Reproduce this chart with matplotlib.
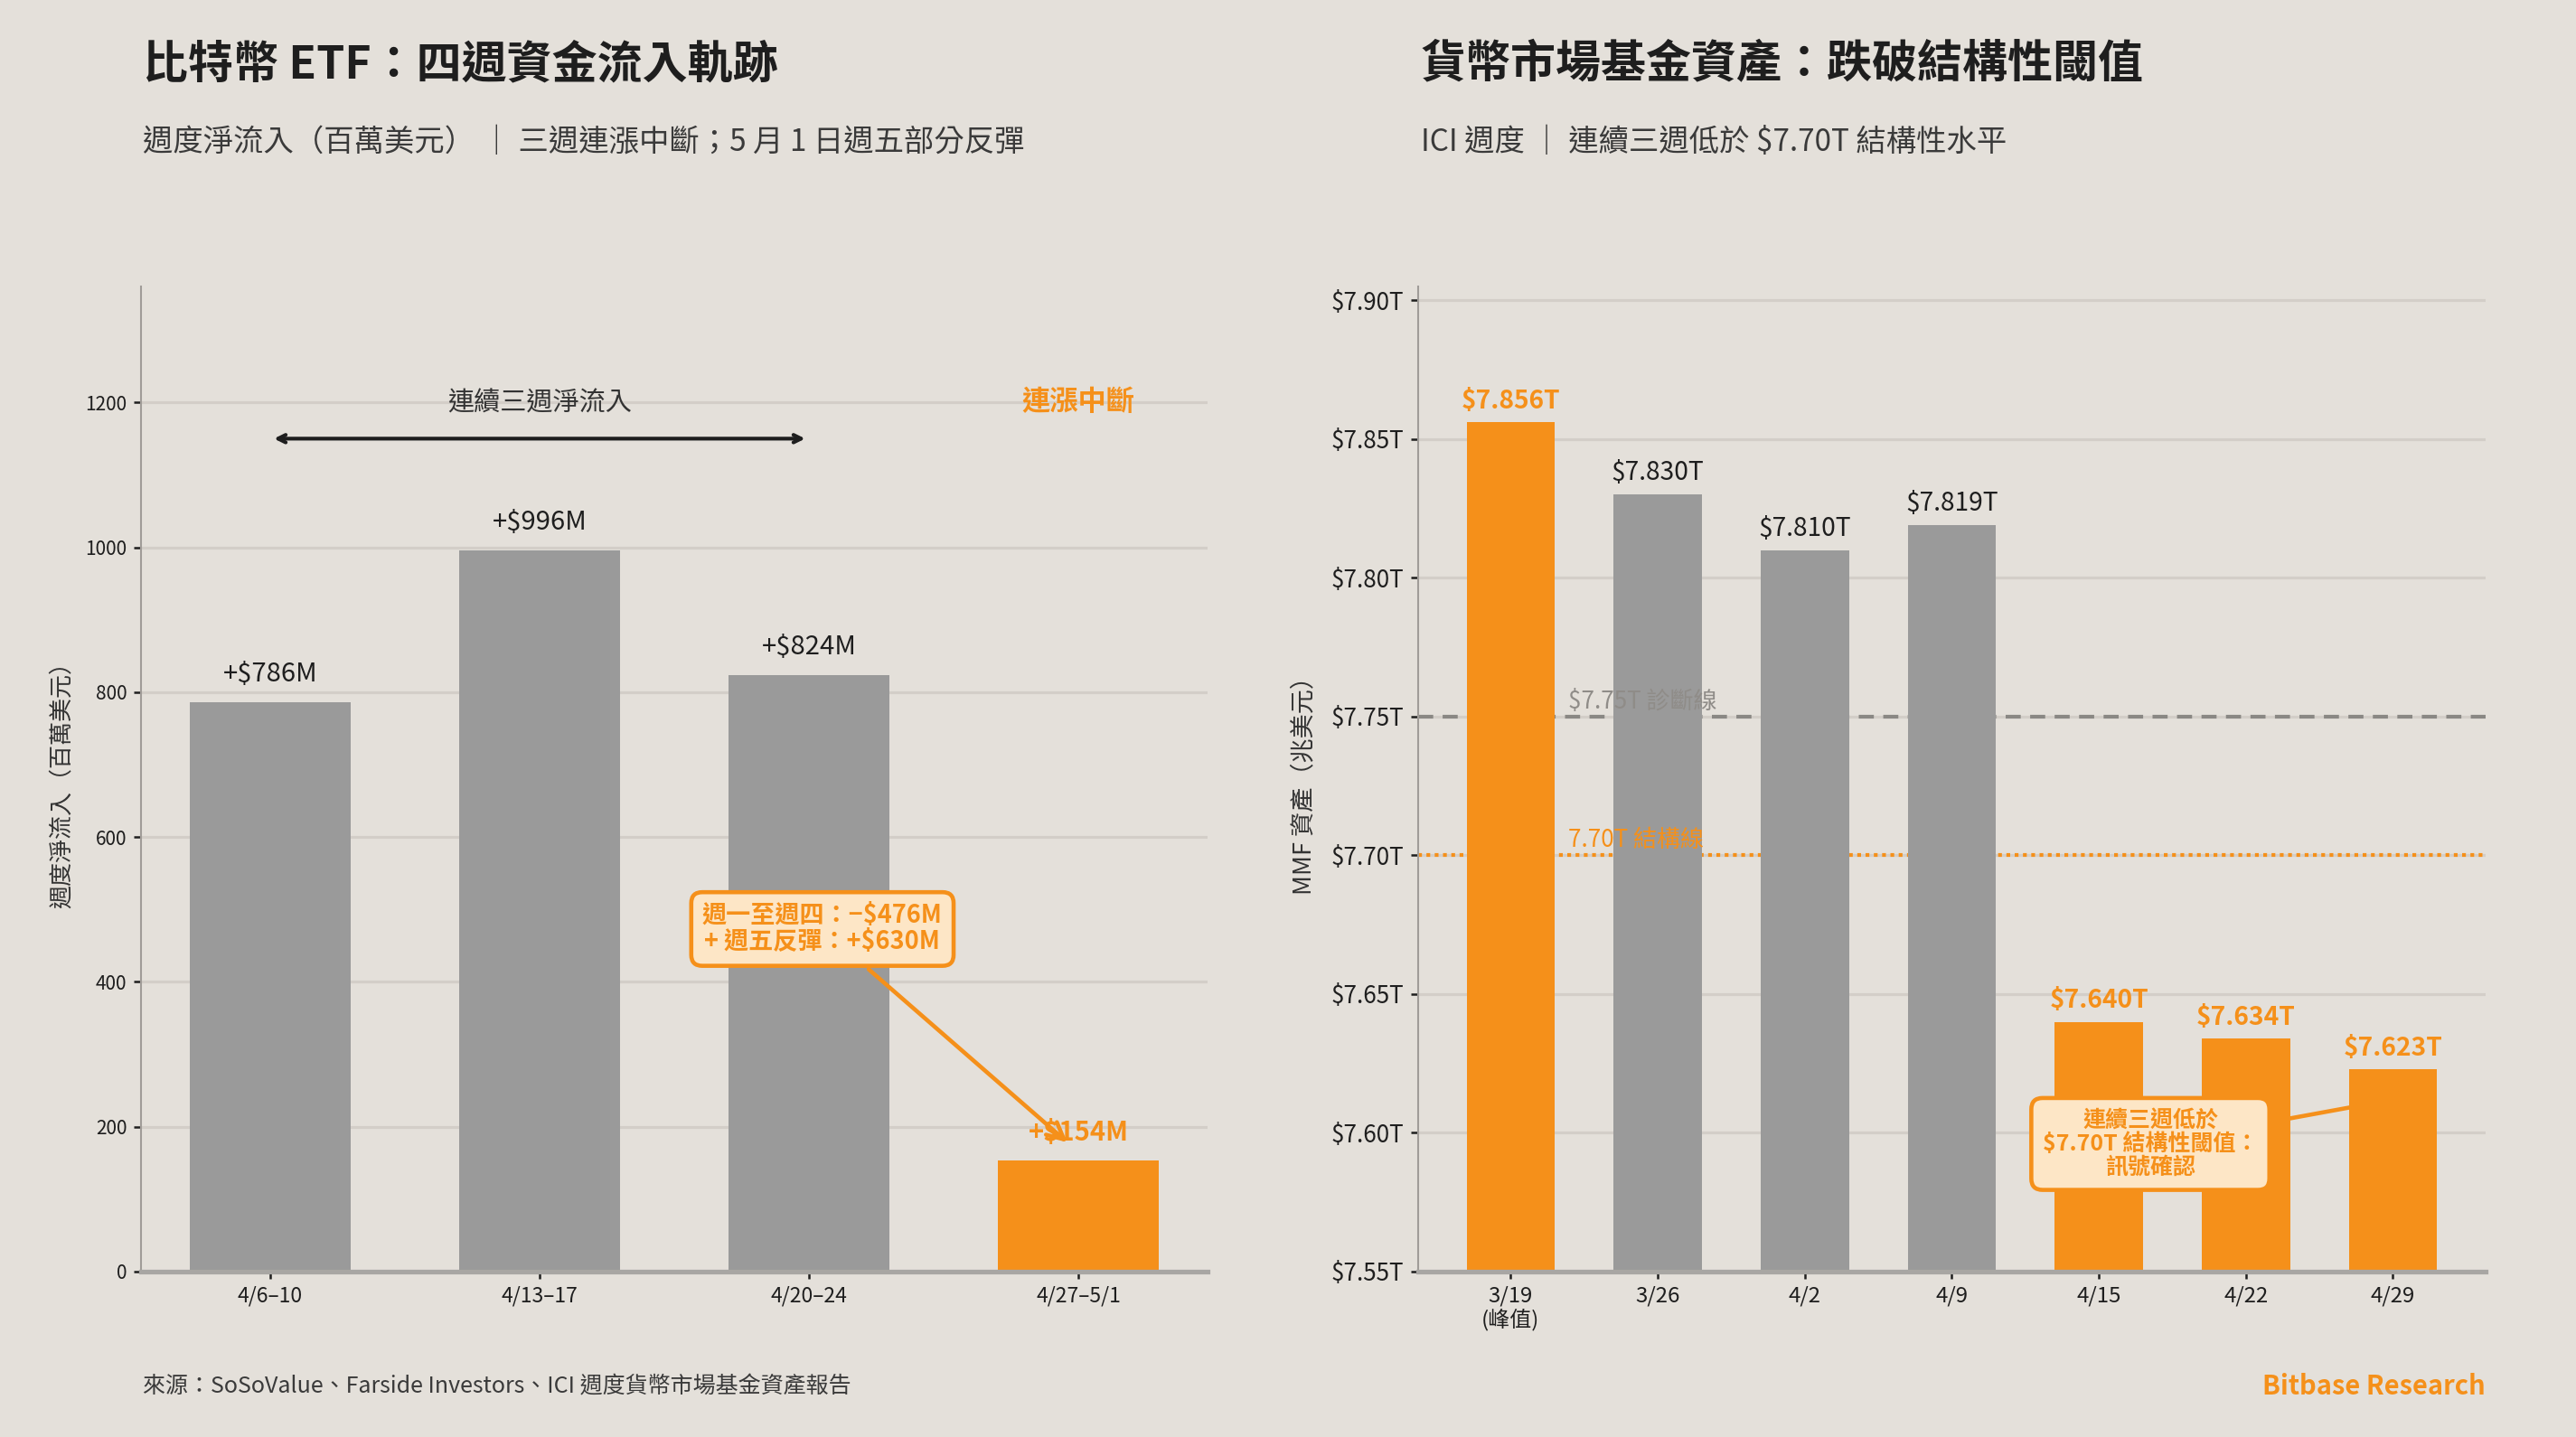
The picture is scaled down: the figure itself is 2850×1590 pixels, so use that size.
import numpy as np
import matplotlib
matplotlib.use('Agg')
import matplotlib.pyplot as plt

plt.rcParams['font.family'] = ['Noto Sans CJK TC', 'DejaVu Sans']

# Data
etf_weeks = ['4/6–10', '4/13–17', '4/20–24', '4/27–5/1']
etf_flows = [786, 996, 824, 154]
etf_ticks = [0, 200, 400, 600, 800, 1000, 1200]

mmf_dates = ['3/19\n(峰值)', '3/26', '4/2', '4/9', '4/15', '4/22', '4/29']
mmf_assets = [7.856, 7.830, 7.810, 7.819, 7.640, 7.634, 7.623]
mmf_ticks = [7.55, 7.60, 7.65, 7.70, 7.75, 7.80, 7.85, 7.90]
diag_level = 7.75
struct_level = 7.70

# Colours
BG = '#E4E0DA'
ORANGE = '#F5901A'
GRAY = '#9A9A9A'
GRID = '#D3CEC8'
DARK = '#1E1E1E'

fig = plt.figure(figsize=(19, 10.6), dpi=150, facecolor=BG)
ax1 = fig.add_axes([0.0547, 0.1151, 0.4141, 0.6855])
ax2 = fig.add_axes([0.5505, 0.1151, 0.4144, 0.6855])

for ax in (ax1, ax2):
    ax.set_facecolor(BG)
    ax.spines['top'].set_visible(False)
    ax.spines['right'].set_visible(False)
    ax.spines['left'].set_color('#A09C98')
    ax.spines['left'].set_linewidth(1)
    ax.spines['bottom'].set_color('#A8A6A3')
    ax.spines['bottom'].set_linewidth(2.5)
    ax.set_axisbelow(True)
    ax.yaxis.grid(True, color=GRID, lw=1.5)
    ax.tick_params(axis='both', colors=DARK, length=4, width=1.2)

# ---- left: ETF flows ----
x1 = np.arange(len(etf_flows))
c1 = [ORANGE if i == len(etf_flows) - 1 else GRAY for i in x1]
ax1.bar(x1, etf_flows, width=0.6, color=c1, zorder=2)
ax1.set_ylim(0, 1360)
ax1.set_yticks(etf_ticks)
ax1.tick_params(axis='y', labelsize=10)
ax1.set_xticks(x1)
ax1.set_xticklabels(etf_weeks, fontsize=11)
ax1.set_ylabel('週度淨流入（百萬美元）', fontsize=12.5, color='#333333', labelpad=6)

for i, v in enumerate(etf_flows):
    last = i == len(etf_flows) - 1
    ax1.text(i, v + 20, f'+${v}M', ha='center', va='bottom', fontsize=14,
             color=ORANGE if last else DARK, fontweight='bold' if last else 'normal', zorder=4)

ax1.annotate('', xy=(0, 1150), xytext=(2, 1150),
             arrowprops=dict(arrowstyle='<->', color=DARK, lw=2))
ax1.text(1, 1198, '連續三週淨流入', ha='center', va='center', fontsize=14, color='#333333')
ax1.text(3, 1200, '連漲中斷', ha='center', va='center', fontsize=15,
         color=ORANGE, fontweight='bold')

ax1.annotate('週一至週四：−$476M\n+ 週五反彈：+$630M', xy=(2.97, 175), xytext=(2.05, 473),
             ha='center', va='center', fontsize=13, fontweight='bold', color=ORANGE,
             linespacing=1.05,
             bbox=dict(boxstyle='round,pad=0.45', fc='#FDE6C6', ec=ORANGE, lw=2.2),
             arrowprops=dict(arrowstyle='->', color=ORANGE, lw=2.2, mutation_scale=22),
             zorder=5)

# ---- right: MMF assets ----
x2 = np.arange(len(mmf_assets))
peak = int(np.argmax(mmf_assets))
hot = [i == peak or v < struct_level for i, v in enumerate(mmf_assets)]
c2 = [ORANGE if h else GRAY for h in hot]
ax2.bar(x2, np.array(mmf_assets) - 7.55, bottom=7.55, width=0.6, color=c2, zorder=2)
ax2.set_ylim(7.55, 7.905)
ax2.set_yticks(mmf_ticks)
ax2.set_yticklabels([f'${t:.2f}T' for t in mmf_ticks], fontsize=12.5)
ax2.set_xticks(x2)
ax2.set_xticklabels(mmf_dates, fontsize=11.5, linespacing=1.1)
ax2.set_ylabel('MMF 資產（兆美元）', fontsize=13, color='#333333', labelpad=8)

ax2.axhline(diag_level, color='#8A8884', lw=2, ls=(0, (4, 2.5)), zorder=1)
ax2.axhline(struct_level, color=ORANGE, lw=2, ls=(0, (1, 1.2)), zorder=1)
ax2.text(0.39, diag_level + 0.001, f'${diag_level:.2f}T 診斷線', fontsize=12.5,
         color='#8F8C88', va='bottom', ha='left', zorder=4)
ax2.text(0.39, struct_level + 0.001, f'{struct_level:.2f}T 結構線', fontsize=12.5,
         color=ORANGE, va='bottom', ha='left', zorder=4)

for i, v in enumerate(mmf_assets):
    ax2.text(i, v + 0.003, f'${v:.3f}T', ha='center', va='bottom', fontsize=13.5,
             color=ORANGE if hot[i] else DARK, fontweight='bold' if hot[i] else 'normal', zorder=4)

# connector line sits below the bars, box above
ax2.annotate('', xy=(6, 7.612), xytext=(4.35, 7.596),
             arrowprops=dict(arrowstyle='-', color=ORANGE, lw=2.2), zorder=1.5)
ax2.text(4.35, 7.596, '連續三週低於\n$7.70T 結構性閾值：\n訊號確認', ha='center', va='center',
         fontsize=12, fontweight='bold', color=ORANGE, linespacing=1.1,
         bbox=dict(boxstyle='round,pad=0.5', fc='#FDE6C6', ec=ORANGE, lw=2.2), zorder=5)

# ---- titles and footer ----
fig.text(0.0555, 0.955, '比特幣 ETF：四週資金流入軌跡', fontsize=24, fontweight='bold',
         color=DARK, va='center', ha='left')
fig.text(0.0555, 0.901, '週度淨流入（百萬美元） ｜ 三週連漲中斷；5 月 1 日週五部分反彈',
         fontsize=16, color='#3A3A3A', va='center', ha='left')
fig.text(0.5515, 0.955, '貨幣市場基金資產：跌破結構性閾值', fontsize=24, fontweight='bold',
         color=DARK, va='center', ha='left')
fig.text(0.5515, 0.901, 'ICI 週度 ｜ 連續三週低於 $7.70T 結構性水平',
         fontsize=16, color='#3A3A3A', va='center', ha='left')

fig.text(0.0555, 0.035, '來源：SoSoValue、Farside Investors、ICI 週度貨幣市場基金資產報告',
         fontsize=12, color='#3A3A3A', va='center', ha='left')
fig.text(0.9649, 0.035, 'Bitbase Research', fontsize=14, fontweight='bold',
         color=ORANGE, va='center', ha='right')

fig.savefig('out.png', dpi=150, facecolor=BG)
